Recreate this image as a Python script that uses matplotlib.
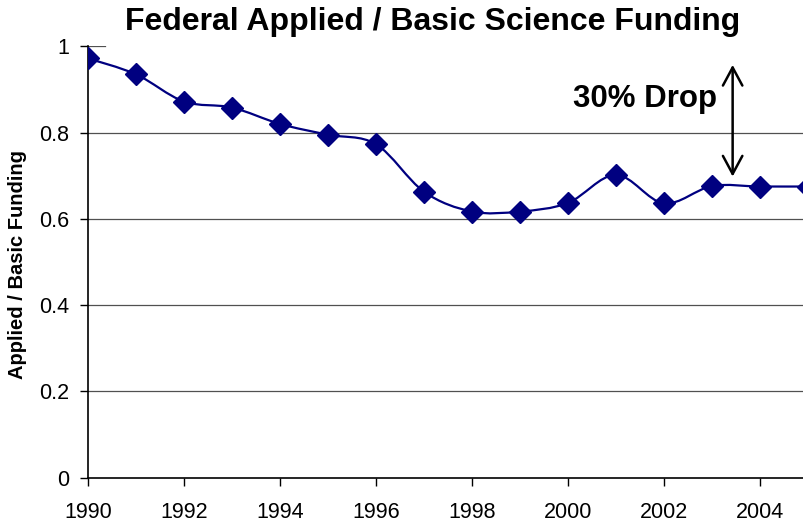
import numpy as np
import matplotlib.pyplot as plt
from matplotlib.path import Path
from matplotlib.patches import PathPatch

plt.rcParams['font.family'] = ['Liberation Sans', 'DejaVu Sans']

# --- Data ---
years = [1990, 1991, 1992, 1993, 1994, 1995, 1996, 1997,
         1998, 1999, 2000, 2001, 2002, 2003, 2004, 2005]
ratio = [0.972, 0.935, 0.872, 0.858, 0.820, 0.795, 0.773, 0.663,
         0.617, 0.617, 0.637, 0.702, 0.636, 0.676, 0.675, 0.675]
y_ticks = [0, 0.2, 0.4, 0.6, 0.8, 1.0]
y_tick_labels = ['0', '0.2', '0.4', '0.6', '0.8', '1']
x_ticks = [1990, 1992, 1994, 1996, 1998, 2000, 2002, 2004]

navy = '#000080'

fig = plt.figure(figsize=(8.04, 5.22), dpi=100)
ax = fig.add_axes([88 / 804, 44.3 / 522, 716 / 804, 431.4 / 522])


def smooth_path(xs, ys):
    # Excel style "smoothed line": Catmull-Rom segments as cubic Beziers
    pts = np.column_stack([xs, ys]).astype(float)
    verts = [pts[0]]
    codes = [Path.MOVETO]
    n = len(pts)
    for i in range(n - 1):
        p0 = pts[max(i - 1, 0)]
        p1 = pts[i]
        p2 = pts[i + 1]
        p3 = pts[min(i + 2, n - 1)]
        c1 = p1 + (p2 - p0) / 6.0
        c2 = p2 - (p3 - p1) / 6.0
        verts += [c1, c2, p2]
        codes += [Path.CURVE4] * 3
    return Path(verts, codes)


ax.add_patch(PathPatch(smooth_path(years, ratio), facecolor='none',
                       edgecolor=navy, linewidth=1.6, zorder=3))
ax.plot(years, ratio, linestyle='none', marker='D', markersize=11.5,
        color=navy, zorder=4)

ax.set_xlim(1990, 1990 + 716 / 48)
ax.set_ylim(0, 1)

# gridlines (the top one is mostly hidden behind the title)
for v in y_ticks[1:-1]:
    ax.axhline(v, color='#505050', linewidth=0.9, zorder=1)
ax.axhline(1.0, xmax=0.024, color='#505050', linewidth=0.9, zorder=1)

for s in ['top', 'right']:
    ax.spines[s].set_visible(False)
for s in ['left', 'bottom']:
    ax.spines[s].set_linewidth(1.2)
    ax.spines[s].set_zorder(2)

ax.set_yticks(y_ticks)
ax.set_yticklabels(y_tick_labels)
ax.set_xticks(x_ticks)
ax.tick_params(axis='both', labelsize=15.5, direction='out', length=5.5, width=1)
ax.tick_params(axis='y', pad=8)
ax.tick_params(axis='x', pad=12)

ax.set_ylabel('Applied / Basic Funding', fontsize=14.5, fontweight='bold')
ax.yaxis.set_label_coords(-0.085, 0.495)

fig.text(433 / 804, 1 - 30 / 522, 'Federal Applied / Basic Science Funding',
         ha='center', va='baseline', fontsize=23, fontweight='bold')

# 30% drop annotation
ax.text(2003.1, 0.859, '30% Drop', ha='right', va='baseline',
        fontsize=22.5, fontweight='bold')
ax.annotate('', xy=(2003.43, 0.957), xytext=(2003.43, 0.698),
            arrowprops=dict(arrowstyle='<->,head_length=0.65,head_width=0.35',
                            color='black', lw=1.8, mutation_scale=20,
                            shrinkA=0, shrinkB=0))

fig.savefig('out.png', dpi=100)
